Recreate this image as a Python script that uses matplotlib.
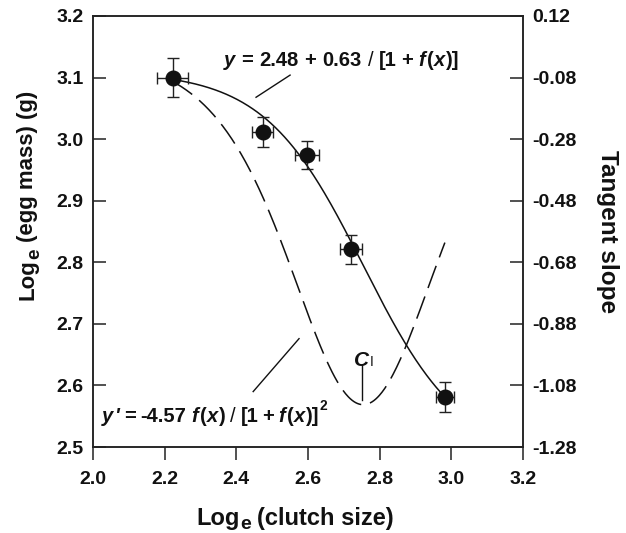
import numpy as np
import matplotlib
matplotlib.use("Agg")
import matplotlib.pyplot as plt

plt.rcParams['font.family'] = ['Liberation Sans', 'DejaVu Sans']
plt.rcParams['font.weight'] = 'bold'
plt.rcParams['lines.scale_dashes'] = False

# data
log_clutch = [2.222, 2.474, 2.597, 2.720, 2.982]
log_egg = [3.100, 3.012, 2.974, 2.821, 2.581]
x_err = [0.044, 0.029, 0.034, 0.031, 0.026]
y_err = [0.031, 0.024, 0.023, 0.024, 0.024]

# fitted model parameters (from the equations)
a_par = 2.48
b_par = 0.63
slope_coef = 4.57
c_infl = 2.754

left_ticks = [2.5, 2.6, 2.7, 2.8, 2.9, 3.0, 3.1, 3.2]
right_ticks = [0.12, -0.08, -0.28, -0.48, -0.68, -0.88, -1.08, -1.28]
x_ticks = [2.0, 2.2, 2.4, 2.6, 2.8, 3.0, 3.2]

W, H = 626, 533
fig = plt.figure(figsize=(W / 100, H / 100), dpi=100)
ax = fig.add_axes([93 / W, 1 - 447 / H, 430 / W, 431 / H])
ax2 = ax.twinx()

k = slope_coef / b_par
xs = np.linspace(log_clutch[0], log_clutch[-1], 300)
fx = np.exp(k * (xs - c_infl))
ys = a_par + b_par / (1 + fx)
yp = -slope_coef * fx / (1 + fx) ** 2

lc = '#111111'
ax.plot(xs, ys, color=lc, lw=1.1, zorder=3)
ax2.plot(xs, yp, color=lc, lw=1.1, dashes=(17, 6.5))

ax.errorbar(log_clutch, log_egg, xerr=x_err, yerr=y_err, fmt='o', color='#111111',
            ms=10.5, ecolor='#222222', elinewidth=1.0, capsize=4.5, capthick=1.0, zorder=4)

ax.set_xlim(2.0, 3.2)
ax.set_ylim(2.5, 3.2)
ax2.set_ylim(-1.28, 0.12)
ax.set_xticks(x_ticks)
ax.set_xticklabels([f"{v:.1f}" for v in x_ticks])
ax.set_yticks(left_ticks)
ax.set_yticklabels([f"{v:.1f}" for v in left_ticks])
ax2.set_yticks(right_ticks)
ax2.set_yticklabels([f"{v:.2f}" for v in right_ticks])

for a in (ax, ax2):
    for s in a.spines.values():
        s.set_linewidth(1.1)
        s.set_color('#222222')

ax.tick_params(axis='x', direction='out', length=9.5, width=1.1, pad=8, labelsize=14, colors='#222222')
ax.tick_params(axis='y', direction='in', length=9.5, width=1.1, pad=7, labelsize=14, colors='#222222')
ax2.tick_params(axis='y', direction='in', length=9.5, width=1.1, pad=7, labelsize=14, colors='#222222')
for lab in ax.get_xticklabels() + ax.get_yticklabels() + ax2.get_yticklabels():
    lab.set_fontweight('bold')
    lab.set_color('#111111')

ax2.set_ylabel('Tangent slope', fontsize=17.5, fontweight='bold', rotation=-90,
               labelpad=30, color='#111111')

renderer = fig.canvas.get_renderer()


def chain_text(pieces, along, base, ha='left', rotation=0):
    """Place text pieces one after another (pixel coords, origin bottom-left)."""
    objs = []
    total = 0.0
    for p in pieces:
        t = fig.text(0, 0, p['s'], transform=None, fontsize=p['size'],
                     fontstyle='italic' if p.get('it') else 'normal',
                     fontweight=p.get('w', 'bold'), ha='left', va='baseline',
                     rotation=rotation, rotation_mode='anchor', color='#111111')
        bb = t.get_window_extent(renderer)
        ln = bb.width if rotation == 0 else bb.height
        objs.append((t, ln))
        total += p.get('gap', 0) + ln
    pos = along - total / 2 if ha == 'center' else along
    for (t, ln), p in zip(objs, pieces):
        pos += p.get('gap', 0)
        dy = p.get('dy', 0)
        if rotation == 0:
            t.set_position((pos, base + dy))
        else:
            t.set_position((base - dy, pos))
        pos += ln


# axis labels
xs_ = 17
chain_text([dict(s='Log', size=xs_), dict(s='e', size=xs_ * 0.82, dy=-4.5, gap=0.5),
            dict(s='(clutch size)', size=xs_, gap=6)],
           along=295, base=H - 524.5, ha='center')
ys_ = 16
chain_text([dict(s='Log', size=ys_), dict(s='e', size=ys_ * 0.85, dy=-6, gap=0.5),
            dict(s='(egg mass) (g)', size=ys_, gap=6)],
           along=H - 300, base=33, ha='left', rotation=90)

# equations
es = 14.5
sp = 6.0
eq1 = [dict(s='y', size=es, it=True), dict(s='=', size=es, gap=sp),
       dict(s='2.48', size=es, gap=sp), dict(s='+', size=es, gap=sp),
       dict(s='0.63', size=es, gap=sp), dict(s='/', size=es, gap=sp, w='normal'),
       dict(s='[1', size=es, gap=sp), dict(s='+', size=es, gap=sp - 2),
       dict(s='f', size=es, it=True, gap=sp), dict(s='(', size=es, gap=1.5),
       dict(s='x', size=es, it=True, gap=0.5), dict(s=')]', size=es, gap=0.5)]
chain_text(eq1, along=224, base=H - 65.7)

sp2 = 5.0
eq2 = [dict(s="y", size=es, it=True), dict(s="'", size=es, it=True, gap=1),
       dict(s='=', size=es, gap=sp2), dict(s='-4.57', size=es, gap=sp2),
       dict(s='f', size=es, it=True, gap=sp2), dict(s='(', size=es, gap=1.5),
       dict(s='x', size=es, it=True, gap=0.5), dict(s=')', size=es, gap=0.5),
       dict(s='/', size=es, gap=sp2, w='normal'),
       dict(s='[1', size=es, gap=sp2), dict(s='+', size=es, gap=sp2 - 2),
       dict(s='f', size=es, it=True, gap=sp2), dict(s='(', size=es, gap=1.5),
       dict(s='x', size=es, it=True, gap=0.5), dict(s=')]', size=es, gap=0.5),
       dict(s='2', size=es * 0.68, gap=0.3, dy=12)]
chain_text(eq2, along=101.7, base=H - 422.3)

# connector lines
ax.plot([2.550, 2.455], [3.104, 3.068], color=lc, lw=1.0)
ax.plot([2.575, 2.447], [2.676, 2.590], color=lc, lw=1.0)

# inflection point label
chain_text([dict(s='C', size=15, it=True), dict(s='I', size=10, w='normal', gap=0.3)],
           along=354, base=H - 366)
ax.plot([2.750, 2.750], [2.633, 2.576], color=lc, lw=1.0)

fig.savefig('out.png', dpi=100)
